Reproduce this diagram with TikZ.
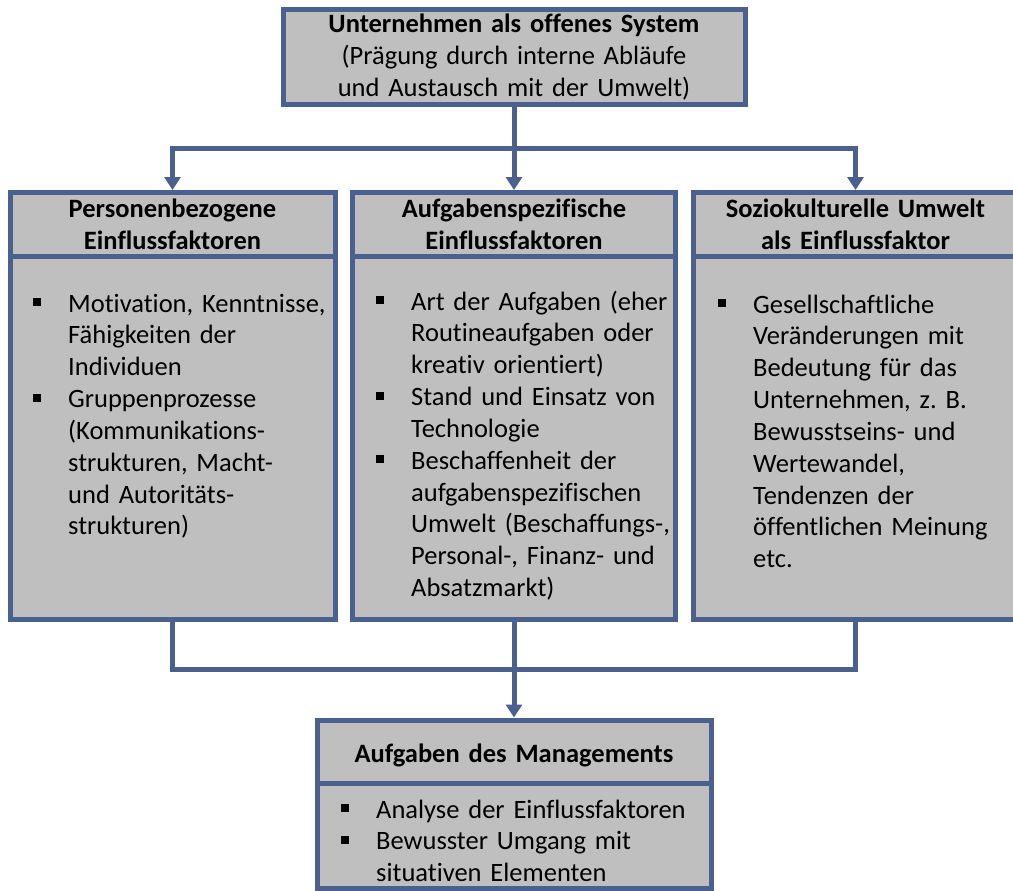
\documentclass[tikz,border=0pt]{standalone}
\usepackage{fontspec}
\setmainfont{Carlito}[Ligatures={NoCommon}]
\usetikzlibrary{arrows.meta}
\definecolor{frame}{RGB}{74,96,142}
\definecolor{panel}{RGB}{191,191,191}
% bullet item: small black square with a hanging indent
\newcommand\bitem{\hangindent=35pt\hangafter=1\makebox[35pt][l]{\rule[6pt]{8pt}{8pt}}}

\begin{document}
\begin{tikzpicture}[x=1pt,y=-1pt,
  box/.style={draw=frame, fill=panel, line width=5pt, inner sep=0pt, outer sep=2.5pt},
  conn/.style={draw=frame, line width=5pt},
  tip/.style={-{Triangle[width=16pt,length=13pt]}},
  head/.style={font=\fontsize{26.5}{32}\selectfont\bfseries, align=center, inner sep=0pt, anchor=base},
  title/.style={font=\fontsize{26.5}{32}\selectfont, align=center, inner sep=0pt, anchor=base},
  body/.style={font=\fontsize{26.5}{31.85}\selectfont, align=left, inner sep=0pt, anchor=base west, text width=370pt}]

\useasboundingbox (0,0) rectangle (1013,891);
\clip (0,0) rectangle (1013,891);

% frames
\node[box, minimum width=462pt, minimum height=95pt]    (top) at (514,57.5) {};
\node[box, minimum width=325pt, minimum height=64pt]    (lh)  at (172.5,224.5) {};
\node[box, minimum width=325pt, minimum height=362.5pt] (lb)  at (172.5,437.75) {};
\node[box, minimum width=323pt, minimum height=64pt]    (mh)  at (514,224.5) {};
\node[box, minimum width=323pt, minimum height=362.5pt] (mb)  at (514,437.75) {};
\node[box, minimum width=325pt, minimum height=64pt]    (rh)  at (855.5,224.5) {};
\node[box, minimum width=325pt, minimum height=362.5pt] (rb)  at (855.5,437.75) {};
\node[box, minimum width=394pt, minimum height=63pt]    (bh)  at (514,751.5) {};
\node[box, minimum width=394pt, minimum height=105pt]   (bb)  at (514,835.5) {};

% headings
\node[title, text width=462pt] (toptext) at (514,33)
  {\textbf{Unternehmen als offenes System}\\(Prägung durch interne Abläufe\\und Austausch mit der Umwelt)};
\node[head, text width=325pt] (lht) at (172.5,217) {Personenbezogene\\Einflussfaktoren};
\node[head, text width=323pt] (mht) at (514,217) {Aufgabenspezifische\\Einflussfaktoren};
\node[head, text width=325pt] (rht) at (855.5,217) {Soziokulturelle Umwelt\\als Einflussfaktor};
\node[head, text width=394pt] (bht) at (514,762) {Aufgaben des Managements};

% bullet lists (each paragraph closed inside the node so the hanging indent holds)
\node[body] (lbt) at (33,312) {\bitem Motivation, Kenntnisse,\newline Fähigkeiten der\newline Individuen\par
  \bitem Gruppenprozesse\newline (Kommunikations-\newline strukturen, Macht-\newline und Autoritäts-\newline strukturen)\par};
\node[body] (mbt) at (376,310) {\bitem Art der Aufgaben (eher\newline Routineaufgaben oder\newline kreativ orientiert)\par
  \bitem Stand und Einsatz von\newline Technologie\par
  \bitem Beschaffenheit der\newline aufgabenspezifischen\newline Umwelt (Beschaffungs-,\newline Personal-, Finanz- und\newline Absatzmarkt)\par};
\node[body] (rbt) at (718,313) {\bitem Gesellschaftliche\newline Veränderungen mit\newline Bedeutung für das\newline Unternehmen, z.\ B.\newline Bewusstseins- und\newline Wertewandel,\newline Tendenzen der\newline öffentlichen Meinung\newline etc.\par};
\node[body] (bbt) at (341,818) {\bitem Analyse der Einflussfaktoren\par
  \bitem Bewusster Umgang mit\newline situativen Elementen\par};

% connectors
\coordinate (s1) at (514,148);
\coordinate (s2) at (514,669.5);
\draw[conn] (top.south) -- (s1);
\draw[conn,tip] (s1) -| (lh.north);
\draw[conn,tip] (s1) -| (rh.north);
\draw[conn,tip] (s1) -- (mh.north);
\draw[conn] (lb.south) |- (s2);
\draw[conn] (rb.south) |- (s2);
\draw[conn,tip] (mb.south) -- (s2) -- (bh.north);
\end{tikzpicture}
\end{document}
